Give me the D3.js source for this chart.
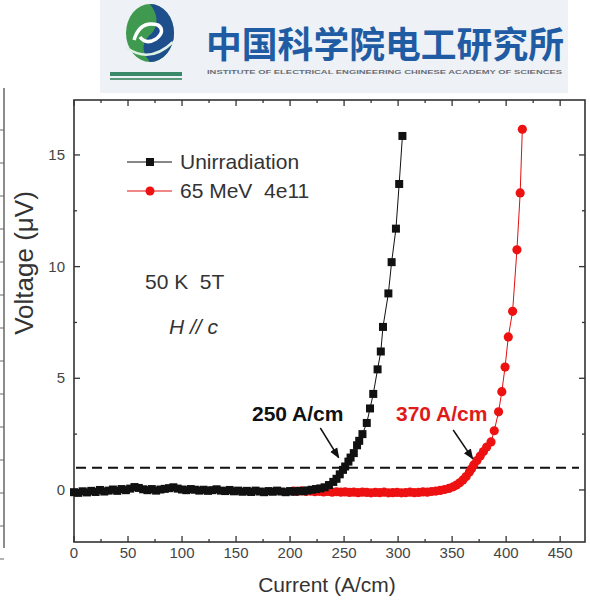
<!DOCTYPE html>
<html>
<head>
<meta charset="utf-8">
<script src="https://cdn.jsdelivr.net/npm/d3@7"></script>
<style>
  body { margin: 0; background: #fff; }
  svg text { font-family: "Liberation Sans", Arial, sans-serif; }
</style>
</head>
<body>
<div id="chart"></div>
<script>
// Unirradiated sample (black squares)
const blackCurrent = [0, 4, 8, 12, 16, 20, 24, 28, 32, 36, 40, 44, 48, 52, 56, 60, 64, 68, 72, 76,
  80, 84, 88, 92, 96, 100, 104, 108, 112, 116, 120, 124, 128, 132, 136, 140, 144, 148, 152, 156,
  160, 164, 168, 172, 176, 180, 184, 188, 192, 196, 200, 204, 208, 212, 216, 220, 224, 228,
  232, 236, 240, 243, 246, 249, 251, 254, 256, 259, 262, 264, 267, 271, 274, 277, 281, 284, 286, 291, 294, 298, 301, 304];
const blackVoltage = [-0.1, -0.13, -0.06, -0.11, -0.04, -0.09, 0.0, -0.07, -0.03, 0.02, -0.04, 0.04, -0.01, 0.06, 0.13, 0.09, 0.03, -0.01, 0.04, -0.03,
  0.02, 0.05, 0.08, 0.12, 0.06, 0.02, -0.01, 0.04, 0.01, -0.03, 0.01, -0.04, -0.01, 0.03, -0.03, -0.05, 0.0, -0.06, -0.03, -0.08,
  -0.04, -0.09, -0.03, -0.07, -0.1, -0.05, -0.08, -0.03, -0.07, -0.1, -0.05, -0.08, -0.04, -0.06, -0.02, 0.01, 0.04, 0.07,
  0.12, 0.22, 0.36, 0.5, 0.7, 0.9, 1.05, 1.27, 1.45, 1.65, 2.0, 2.2, 2.5, 3.0, 3.65, 4.3, 5.4, 6.2, 7.3, 8.8, 10.2, 11.7, 13.7, 15.85];

// 65 MeV 4e11 irradiated sample (red circles)
const redCurrent = [203, 207, 211, 215, 219, 223, 227, 231, 235, 239, 243, 247, 251, 255, 259, 263, 267, 271, 275, 279,
  283, 287, 291, 295, 299, 303, 307, 311, 315, 319, 323, 327, 331, 335, 339, 343, 347, 351,
  354, 357, 360, 363, 366, 368, 370, 373, 376, 379, 382, 386, 389, 393, 396, 399, 402, 406, 410, 413, 415];
const redVoltage = [-0.05, -0.06, -0.04, -0.07, -0.05, -0.08, -0.06, -0.09, -0.07, -0.1, -0.08, -0.1, -0.09, -0.11, -0.1, -0.12, -0.1, -0.11, -0.13, -0.11,
  -0.12, -0.1, -0.13, -0.12, -0.11, -0.13, -0.12, -0.1, -0.12, -0.11, -0.09, -0.1, -0.07, -0.05, -0.02, 0.02, 0.07, 0.14,
  0.22, 0.32, 0.45, 0.6, 0.8, 0.95, 1.12, 1.32, 1.52, 1.72, 1.92, 2.15, 2.65, 3.5, 4.4, 5.5, 6.85, 8.0, 10.75, 13.3, 16.15];

const xMajor = [0, 50, 100, 150, 200, 250, 300, 350, 400, 450];
const xMinor = [25, 75, 125, 175, 225, 275, 325, 375, 425];
const yMajor = [0, 5, 10, 15];
const yMinor = [2.5, 7.5, 12.5];
const criterion = 1;   // voltage criterion (uV)
const icBlack = 250, icRed = 370;

const width = 590, height = 606;
const svg = d3.select("#chart").append("svg").attr("width", width).attr("height", height);

// Header banner
const head = svg.append("g").attr("id", "header");
head.append("rect").attr("x", 100).attr("y", 0).attr("width", 468).attr("height", 93).attr("fill", "#eef1f5");
// logo
head.append("ellipse").attr("cx", 150).attr("cy", 33).attr("rx", 24).attr("ry", 29).attr("fill", "#3f9a4f");
head.append("path").attr("d", "M150,4 A24,29 0 0 1 150,62 Q136,46 152,33 Q162,20 150,4 Z").attr("fill", "#1f4e8c");
head.append("path").attr("d", "M134,40 Q140,20 158,25 Q166,31 156,39 Q146,45 140,37")
  .attr("fill", "none").attr("stroke", "#fff").attr("stroke-width", 3.5);
head.append("path").attr("d", "M127,48 Q150,64 173,42").attr("fill", "none").attr("stroke", "#dff0e4").attr("stroke-width", 2.5);
head.append("rect").attr("x", 110).attr("y", 72).attr("width", 72).attr("height", 4).attr("fill", "#3a8a6a");
head.append("rect").attr("x", 110).attr("y", 78).attr("width", 72).attr("height", 2).attr("fill", "#5a9a7a");
head.append("text").text("中国科学院电工研究所")
  .attr("x", 206).attr("y", 58).attr("textLength", 358).attr("lengthAdjust", "spacingAndGlyphs")
  .style("font-family", "'Noto Sans CJK SC', sans-serif").style("font-weight", "bold")
  .style("font-size", "36px").attr("fill", "#1f5ca3");
head.append("text").text("INSTITUTE OF ELECTRICAL ENGINEERING CHINESE ACADEMY OF SCIENCES")
  .attr("x", 207).attr("y", 74).attr("textLength", 355).attr("lengthAdjust", "spacingAndGlyphs")
  .style("font-size", "6px").style("font-weight", "bold").attr("fill", "#6a6f78");

// Edge of neighbouring panel (cut off at left)
svg.append("line").attr("x1", 4).attr("x2", 4).attr("y1", 88).attr("y2", 548).attr("stroke", "#666").attr("stroke-width", 1.5);
svg.append("g").selectAll("line").data(d3.range(0, 14)).join("line")
  .attr("x1", 0).attr("x2", 4).attr("y1", d => 130 + d * 33).attr("y2", d => 130 + d * 33)
  .attr("stroke", "#666").attr("stroke-width", 1);

// Scales
const margin = {left: 74, right: 5, top: 100, bottom: 64};
const x = d3.scaleLinear().domain([0, 473]).range([margin.left, width - margin.right]);
const y = d3.scaleLinear().domain([-2.33, 17.46]).range([height - margin.bottom, margin.top]);
const x0 = x.range()[0], x1 = x.range()[1], y0 = y.range()[0], y1 = y.range()[1];

const plot = svg.append("g").attr("id", "plot");
const axisColor = "#333";

// Ticks (inward, all four sides)
function ticks(vals, len, horizontal) {
  vals.forEach(v => {
    if (horizontal) {
      plot.append("line").attr("x1", x(v)).attr("x2", x(v)).attr("y1", y0).attr("y2", y0 - len).attr("stroke", axisColor).attr("stroke-width", 1.3);
      plot.append("line").attr("x1", x(v)).attr("x2", x(v)).attr("y1", y1).attr("y2", y1 + len).attr("stroke", axisColor).attr("stroke-width", 1.3);
    } else {
      plot.append("line").attr("x1", x0).attr("x2", x0 + len).attr("y1", y(v)).attr("y2", y(v)).attr("stroke", axisColor).attr("stroke-width", 1.3);
      plot.append("line").attr("x1", x1).attr("x2", x1 - len).attr("y1", y(v)).attr("y2", y(v)).attr("stroke", axisColor).attr("stroke-width", 1.3);
    }
  });
}
ticks(xMajor, 6, true); ticks(xMinor, 3, true);
ticks(yMajor, 6, false); ticks(yMinor, 3, false);

plot.append("rect").attr("x", x0).attr("y", y1).attr("width", x1 - x0).attr("height", y0 - y1)
  .attr("fill", "none").attr("stroke", axisColor).attr("stroke-width", 1.6);

// Tick labels
plot.append("g").selectAll("text").data(xMajor).join("text")
  .text(d => d).attr("x", d => x(d)).attr("y", y0 + 16)
  .attr("text-anchor", "middle").style("font-size", "15px").attr("fill", "#444");
plot.append("g").selectAll("text").data(yMajor).join("text")
  .text(d => d).attr("x", x0 - 9).attr("y", d => y(d) + 5)
  .attr("text-anchor", "end").style("font-size", "15px").attr("fill", "#444");

// Axis titles
svg.append("text").text("Current (A/cm)").attr("x", 327).attr("y", 592)
  .attr("text-anchor", "middle").style("font-size", "21px").attr("fill", "#333");
svg.append("text").text("Voltage (\u03bcV)")
  .attr("transform", "translate(33,263) rotate(-90)")
  .attr("text-anchor", "middle").style("font-size", "26px").attr("fill", "#333");

// Criterion line
plot.append("line").attr("x1", x0 + 2).attr("x2", x1 - 6).attr("y1", y(criterion)).attr("y2", y(criterion))
  .attr("stroke", "#111").attr("stroke-width", 2).attr("stroke-dasharray", "10,6");

// Series
const line = d3.line().x(d => x(d[0])).y(d => y(d[1]));
const red = redCurrent.map((c, i) => [c, redVoltage[i]]);
const black = blackCurrent.map((c, i) => [c, blackVoltage[i]]);

plot.append("path").datum(red).attr("d", line).attr("fill", "none").attr("stroke", "#e01010").attr("stroke-width", 1);
plot.append("g").selectAll("circle").data(red).join("circle")
  .attr("cx", d => x(d[0])).attr("cy", d => y(d[1])).attr("r", 4.6).attr("fill", "#ee1111");

plot.append("path").datum(black).attr("d", line).attr("fill", "none").attr("stroke", "#111").attr("stroke-width", 1);
plot.append("g").selectAll("rect").data(black).join("rect")
  .attr("x", d => x(d[0]) - 4).attr("y", d => y(d[1]) - 4).attr("width", 8).attr("height", 8).attr("fill", "#111");

// Legend
const legend = svg.append("g").attr("id", "legend");
[["Unirradiation", "#111", "square", 162], ["65 MeV  4e11", "#ee1111", "circle", 191]].forEach(([label, col, shape, ly]) => {
  legend.append("line").attr("x1", 127).attr("x2", 172).attr("y1", ly).attr("y2", ly).attr("stroke", col === "#111" ? "#111" : "#e01010").attr("stroke-width", 1);
  if (shape === "square") legend.append("rect").attr("x", 146).attr("y", ly - 4).attr("width", 8).attr("height", 8).attr("fill", col);
  else legend.append("circle").attr("cx", 150).attr("cy", ly).attr("r", 4.5).attr("fill", col);
  legend.append("text").text(label).attr("x", 180).attr("y", ly + 7).style("font-size", "21px").attr("fill", "#333")
    .attr("xml:space", "preserve");
});

// Conditions
svg.append("text").text("50 K  5T").attr("x", 145).attr("y", 289).attr("xml:space", "preserve")
  .style("font-size", "21px").attr("fill", "#333");
svg.append("text").text("H // c").attr("x", 169).attr("y", 334).attr("xml:space", "preserve")
  .style("font-size", "21px").style("font-style", "italic").attr("fill", "#333");

// Annotations with arrows
svg.append("defs").append("marker").attr("id", "arrow").attr("viewBox", "0 0 10 10")
  .attr("refX", 9).attr("refY", 5).attr("markerWidth", 7).attr("markerHeight", 7).attr("orient", "auto")
  .append("path").attr("d", "M0,1 L10,5 L0,9 Z").attr("fill", "#111");

svg.append("text").text(icBlack + " A/cm").attr("x", 252).attr("y", 421)
  .style("font-size", "21px").style("font-weight", "bold").attr("fill", "#111");
svg.append("line").attr("x1", x(228)).attr("y1", 428).attr("x2", x(245)).attr("y2", y(criterion) - 10)
  .attr("stroke", "#111").attr("stroke-width", 1.5).attr("marker-end", "url(#arrow)");

svg.append("text").text(icRed + " A/cm").attr("x", 396).attr("y", 421)
  .style("font-size", "21px").style("font-weight", "bold").attr("fill", "#e01a1a");
svg.append("line").attr("x1", x(351)).attr("y1", 430).attr("x2", x(369)).attr("y2", y(criterion) - 9)
  .attr("stroke", "#111").attr("stroke-width", 1.5).attr("marker-end", "url(#arrow)");
</script>
</body>
</html>
